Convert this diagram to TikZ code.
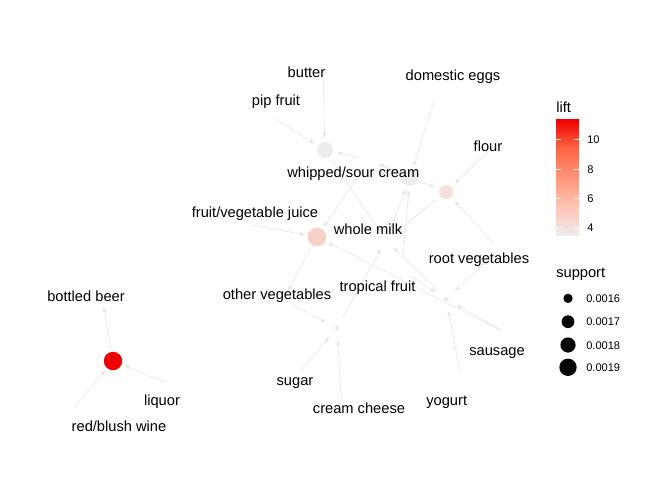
\documentclass[tikz,border=0pt]{standalone}
\usepackage{fontspec}
\setmainfont{Liberation Sans}
\usetikzlibrary{arrows.meta}
\pgfdeclarelayer{edgelayer}
\pgfsetlayers{edgelayer,main}
\definecolor{edgegray}{RGB}{230,230,230}
\definecolor{liftlo}{RGB}{236,236,236}
\definecolor{liftb}{RGB}{243,226,222}
\definecolor{liftc}{RGB}{247,208,198}
\definecolor{liftd}{RGB}{240,228,228}
\definecolor{lifthi}{RGB}{238,0,0}
% colour bar, the middle half of the shading fills the bar
\pgfdeclareverticalshading{liftbar}{100bp}{rgb(0bp)=(0.925,0.925,0.925); rgb(25bp)=(0.925,0.925,0.925); rgb(37.5bp)=(1,0.765,0.702); rgb(50bp)=(1,0.588,0.478); rgb(62.5bp)=(1,0.392,0.259); rgb(75bp)=(0.933,0,0); rgb(100bp)=(0.933,0,0)}

\begin{document}
\begin{tikzpicture}[x=0.75pt,y=-0.75pt]
  \tikzstyle{rnode} = [circle, minimum size=18pt, inner sep=0pt]
  \tikzstyle{inode} = [circle, minimum size=15pt, inner sep=0pt]
  \tikzstyle{tnode} = [anchor=base, inner sep=0pt, text=black, font=\fontsize{11}{13}\selectfont]
  \tikzstyle{legtext} = [anchor=base west, inner sep=0pt, text=black, font=\fontsize{8.3}{10}\selectfont]
  \tikzstyle{legtitle} = [anchor=base west, inner sep=0pt, text=black, font=\fontsize{11}{13}\selectfont]
  \tikzstyle{edge} = [draw=edgegray, line width=0.45pt, -{Triangle[length=3.8pt,width=2.8pt]}]

  \useasboundingbox (0,0) rectangle (672,480);

  % rules
  \node[rnode] (r1) at (325,150) {};
  \node[rnode] (r2) at (410,178) {};
  \node[rnode] (r3) at (446,192) {};
  \node[rnode] (r4) at (317,237) {};
  \node[rnode] (r5) at (337,328) {};
  \node[rnode] (r6) at (446,299) {};
  \node[rnode] (r7) at (113,361) {};

  % items
  \node[inode] (butter) at (323,68) {};
  \node[inode] (pip) at (264,112) {};
  \node[inode] (eggs) at (438,88) {};
  \node[inode] (flour) at (495,145) {};
  \node[inode] (cream) at (369,160) {};
  \node[inode] (juice) at (242,223) {};
  \node[inode] (milk) at (386,240) {};
  \node[inode] (rootveg) at (500,250) {};
  \node[inode] (tropical) at (402,270) {};
  \node[inode] (othveg) at (283,300) {};
  \node[inode] (sausage) at (510,335) {};
  \node[inode] (sugar) at (293,380) {};
  \node[inode] (cheese) at (342,410) {};
  \node[inode] (yogurt) at (462,382) {};
  \node[inode] (beer) at (102,297) {};
  \node[inode] (liquor) at (175,386) {};
  \node[inode] (wine) at (68,415) {};

  \begin{pgfonlayer}{edgelayer}
    \foreach \a/\b in {butter/r1, pip/r1, cream/r1, r1/milk,
                       eggs/r2, milk/r2, tropical/r2, r2/cream,
                       flour/r3, rootveg/r3, cream/r3, r3/milk,
                       juice/r4, cream/r4, sausage/r4, r4/othveg,
                       othveg/r5, sugar/r5, cheese/r5, r5/milk,
                       rootveg/r6, sausage/r6, yogurt/r6, tropical/r6, r6/milk,
                       liquor/r7, wine/r7, r7/beer}
      \draw[edge] (\a) -- (\b);
  \end{pgfonlayer}

  \foreach \r/\c/\s in {r1/liftlo/6pt, r2/liftlo/6pt, r3/liftb/5.3pt, r4/liftc/7pt,
                        r5/liftd/1.6pt, r6/liftd/1.6pt, r7/lifthi/6.9pt}
    \fill[\c] (\r) circle (\s);

  % labels
  \node[tnode] (lbutter) at (306.5,77) {butter};
  \node[tnode] (lpip) at (276,105) {pip fruit};
  \node[tnode] (leggs) at (453,80) {domestic eggs};
  \node[tnode] (lflour) at (488,151) {flour};
  \node[tnode] (lcream) at (353.3,177) {whipped/sour cream};
  \node[tnode] (ljuice) at (255,217.5) {fruit/vegetable juice};
  \node[tnode] (lmilk) at (368,234) {whole milk};
  \node[tnode] (lrootveg) at (479,263) {root vegetables};
  \node[tnode] (ltropical) at (377.5,291) {tropical fruit};
  \node[tnode] (lothveg) at (277,299) {other vegetables};
  \node[tnode] (lsausage) at (497,355.5) {sausage};
  \node[tnode] (lsugar) at (295,385.5) {sugar};
  \node[tnode] (lcheese) at (359,413) {cream cheese};
  \node[tnode] (lyogurt) at (446.7,405.5) {yogurt};
  \node[tnode] (lbeer) at (86,301.7) {bottled beer};
  \node[tnode] (lliquor) at (162,405) {liquor};
  \node[tnode] (lwine) at (119,431.7) {red/blush wine};

  % legend: lift
  \node[legtitle] (lifttitle) at (556,112) {lift};
  \shade[shading=liftbar] (556,119.3) rectangle (579,235);
  \foreach \y/\v in {139.3/10, 169/8, 198.3/6, 227.3/4} {
    \draw[white, line width=0.6pt] (556,\y) -- (560.7,\y) (574.3,\y) -- (579,\y);
    \node[legtext] (tick\v) at (587,{\y+4}) {\v};
  }

  % legend: support
  \node[legtitle] (supptitle) at (556,277) {support};
  \foreach \y/\s/\v [count=\i] in {298.3/3.5pt/0.0016, 321.7/4.8pt/0.0017,
                                   345/5.7pt/0.0018, 367.3/6.5pt/0.0019} {
    \fill[black] (568,\y) circle (\s);
    \node[legtext] (supp\i) at (586,{\y+4}) {\v};
  }
\end{tikzpicture}
\end{document}
